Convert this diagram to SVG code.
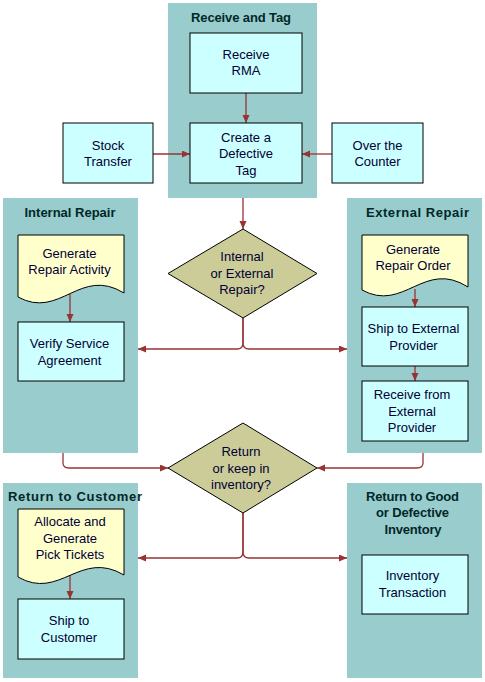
<svg xmlns="http://www.w3.org/2000/svg" width="485" height="682" viewBox="0 0 485 682">
<defs>
<style>
.lane{fill:#99CCCC;stroke:none}
.box{fill:#CCFFFF;stroke:#000;stroke-width:1}
.doc{fill:#FFFFCC;stroke:#000;stroke-width:1}
.dia{fill:#CCCC99;stroke:#000;stroke-width:1}
.t{font-family:"Liberation Sans",Arial,sans-serif;font-size:13px;fill:#000033;text-anchor:middle}
.h{font-family:"Liberation Sans",Arial,sans-serif;font-size:13px;font-weight:bold;fill:#002828;text-anchor:middle}
.c{fill:none;stroke:#993333;stroke-width:1.3;marker-end:url(#ah)}
</style>
<marker id="ah" markerUnits="userSpaceOnUse" markerWidth="9" markerHeight="8" refX="8" refY="3.5" orient="auto">
<path d="M0,0 L8,3.5 L0,7 Z" fill="#993333"/>
</marker>
</defs>
<rect width="485" height="682" fill="#fff"/>

<g id="lane-receive">
<rect class="lane" x="168" y="3" width="149" height="195"/>
<text class="h" x="241" y="22" textLength="100">Receive and Tag</text>
</g>
<g id="lane-internal">
<rect class="lane" x="3" y="198" width="135" height="255"/>
<text class="h" x="70" y="217" textLength="91">Internal Repair</text>
</g>
<g id="lane-external">
<rect class="lane" x="347" y="198" width="135" height="255"/>
<text class="h" x="417.5" y="217" textLength="103">External Repair</text>
</g>
<g id="lane-customer">
<rect class="lane" x="3" y="483" width="135" height="195"/>
<text class="h" x="75" y="501" textLength="134">Return to Customer</text>
</g>
<g id="lane-inventory">
<rect class="lane" x="347" y="483" width="135" height="195"/>
<text class="h" x="412.5" y="501" textLength="93">Return to Good</text>
<text class="h" x="412.5" y="517" textLength="73">or Defective</text>
<text class="h" x="413" y="533.5" textLength="57">Inventory</text>
</g>

<g id="connectors">
<path class="c" d="M246,93 V123"/>
<path class="c" d="M153,154 H190"/>
<path class="c" d="M332,154 H302"/>
<path class="c" d="M243,198 V229"/>
<path class="c" d="M243,318 V343 Q243,349 237,349 H138"/>
<path class="c" d="M243,318 V343 Q243,349 249,349 H347"/>
<path class="c" d="M70,294 V322"/>
<path class="c" d="M415,289 V307"/>
<path class="c" d="M415,366 V381"/>
<path class="c" d="M63,453 V463 Q63,468 69,468 H168"/>
<path class="c" d="M423,453 V463 Q423,468 417,468 H317"/>
<path class="c" d="M243,513 V552 Q243,558 237,558 H138"/>
<path class="c" d="M243,513 V552 Q243,558 249,558 H347"/>
<path class="c" d="M70,575 V599"/>
</g>

<g id="receive-rma">
<rect class="box" x="190" y="33" width="112" height="60"/>
<text class="t" x="246" y="58.7">Receive</text>
<text class="t" x="246" y="75.3">RMA</text>
</g>
<g id="create-tag">
<rect class="box" x="190" y="123" width="112" height="60"/>
<text class="t" x="246" y="141.7">Create a</text>
<text class="t" x="246" y="158">Defective</text>
<text class="t" x="246" y="174.5">Tag</text>
</g>
<g id="stock-transfer">
<rect class="box" x="63" y="123" width="90" height="60"/>
<text class="t" x="108" y="149.7">Stock</text>
<text class="t" x="108" y="166">Transfer</text>
</g>
<g id="over-counter">
<rect class="box" x="332" y="123" width="91" height="60"/>
<text class="t" x="377.5" y="149.7">Over the</text>
<text class="t" x="377.5" y="166">Counter</text>
</g>
<g id="decision-repair">
<polygon class="dia" points="243,229 317,273.5 243,318 168,273.5"/>
<text class="t" x="242" y="261">Internal</text>
<text class="t" x="242" y="277.5">or External</text>
<text class="t" x="242" y="294">Repair?</text>
</g>
<g id="gen-repair-activity">
<path class="doc" d="M18,235 H124 V293 C80,266 60,320 18,297 Z"/>
<text class="t" x="69.5" y="257.5">Generate</text>
<text class="t" x="69.5" y="274">Repair Activity</text>
</g>
<g id="verify-service">
<rect class="box" x="18" y="322" width="106" height="59"/>
<text class="t" x="69.5" y="348">Verify Service</text>
<text class="t" x="69.5" y="364.5">Agreement</text>
</g>
<g id="gen-repair-order">
<path class="doc" d="M362,235 H468 V287 C424,259 404,313 362,290 Z"/>
<text class="t" x="413" y="254">Generate</text>
<text class="t" x="413" y="270">Repair Order</text>
</g>
<g id="ship-external">
<rect class="box" x="362" y="307" width="106" height="59"/>
<text class="t" x="413.5" y="333">Ship to External</text>
<text class="t" x="413.5" y="349.5">Provider</text>
</g>
<g id="receive-external">
<rect class="box" x="362" y="381" width="106" height="60"/>
<text class="t" x="412" y="399">Receive from</text>
<text class="t" x="412" y="415.5">External</text>
<text class="t" x="412" y="432">Provider</text>
</g>
<g id="decision-return">
<polygon class="dia" points="243,423 317,468 243,513 168,468"/>
<text class="t" x="241" y="456">Return</text>
<text class="t" x="241" y="472.5">or keep in</text>
<text class="t" x="241" y="489">inventory?</text>
</g>
<g id="allocate-pick">
<path class="doc" d="M18,509 H124 V575 C80,549 60,601 18,577 Z"/>
<text class="t" x="70" y="526">Allocate and</text>
<text class="t" x="70" y="542.5">Generate</text>
<text class="t" x="70" y="559">Pick Tickets</text>
</g>
<g id="ship-customer">
<rect class="box" x="18" y="599" width="106" height="60"/>
<text class="t" x="69" y="625">Ship to</text>
<text class="t" x="69" y="641.5">Customer</text>
</g>
<g id="inventory-transaction">
<rect class="box" x="362" y="555" width="106" height="59"/>
<text class="t" x="412.5" y="580">Inventory</text>
<text class="t" x="412.5" y="596.5">Transaction</text>
</g>
</svg>
